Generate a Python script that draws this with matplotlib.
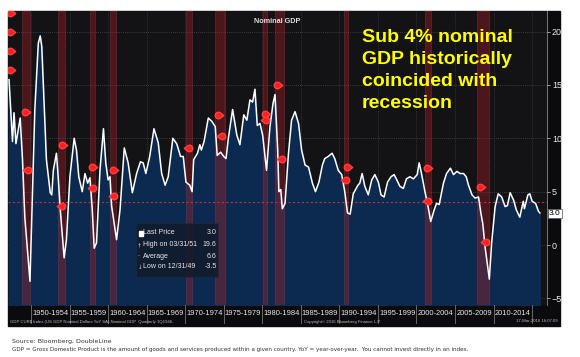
import matplotlib.pyplot as plt
import matplotlib.transforms as mtransforms
from matplotlib.patches import Rectangle
from matplotlib.path import Path
import numpy as np

# quarterly nominal GDP YoY (%)
gdp_year = [1947.15, 1947.6, 1947.8, 1948.05, 1948.6, 1948.9, 1949.2, 1949.87, 1950.5, 1950.95,
            1951.2, 1951.4, 1952.0, 1952.5, 1952.7, 1952.9, 1953.3, 1953.5, 1953.8, 1954.3,
            1954.6, 1955.05, 1955.6, 1955.9, 1956.2, 1956.65, 1957.0, 1957.35, 1957.65, 1957.95,
            1958.2, 1958.5, 1958.95, 1959.4, 1959.7, 1960.0, 1960.25, 1960.45, 1961.1, 1961.55,
            1962.1, 1962.6, 1963.15, 1963.7, 1964.2, 1964.55, 1964.9, 1965.4, 1965.95, 1966.5,
            1966.95, 1967.4, 1967.8, 1968.4, 1968.9, 1969.4, 1969.75, 1970.1, 1970.6, 1970.9,
            1971.1, 1971.6, 1971.9, 1972.1, 1972.45, 1973.0, 1973.45, 1973.9, 1974.15, 1974.6,
            1975.0, 1975.3, 1975.6, 1976.15, 1976.7, 1977.1, 1977.6, 1978.0, 1978.4, 1978.75,
            1979.05, 1979.35, 1979.7, 1980.05, 1980.35, 1980.55, 1981.0, 1981.4, 1981.65, 1982.0,
            1982.15, 1982.4, 1982.6, 1982.95, 1983.4, 1983.8, 1984.25, 1984.7, 1985.1, 1985.55,
            1986.0, 1986.5, 1986.9, 1987.35, 1987.8, 1988.1, 1988.55, 1989.05, 1989.4, 1989.85,
            1990.3, 1990.7, 1991.05, 1991.4, 1991.8, 1992.4, 1992.65, 1992.95, 1993.3, 1993.75,
            1994.2, 1994.6, 1995.05, 1995.4, 1995.8, 1996.25, 1996.7, 1997.1, 1997.45, 1997.85,
            1998.3, 1998.7, 1999.15, 1999.6, 2000.1, 2000.35, 2000.65, 2001.1, 2001.5, 2001.85,
            2002.3, 2002.6, 2002.95, 2003.5, 2003.9, 2004.4, 2004.8, 2005.25, 2005.65, 2006.1,
            2006.45, 2006.75, 2007.2, 2007.6, 2008.05, 2008.35, 2008.6, 2008.9, 2009.45, 2009.75,
            2010.2, 2010.6, 2011.05, 2011.5, 2011.8, 2012.15, 2012.6, 2012.95, 2013.4, 2013.85,
            2014.0, 2014.45, 2014.7, 2015.0, 2015.45, 2015.8, 2016.0]
gdp_yoy = [15.5, 9.7, 12.4, 9.5, 11.9, 8.0, 2.6, -3.4, 12.7, 18.9,
           19.6, 18.6, 8.0, 4.9, 4.7, 7.0, 8.6, 6.7, 3.3, -1.2,
           0.5, 6.4, 10.0, 8.9, 6.4, 5.0, 6.7, 5.8, 6.3, 3.3,
           -0.3, 0.2, 7.0, 10.9, 7.7, 6.1, 6.4, 3.7, 0.5, 3.3,
           9.1, 7.7, 4.9, 6.7, 7.8, 7.7, 6.7, 8.3, 10.9, 9.6,
           6.7, 5.6, 6.4, 10.0, 9.5, 8.3, 8.3, 5.9, 5.6, 5.0,
           8.0, 8.6, 9.4, 8.9, 9.7, 11.9, 11.6, 11.1, 8.4, 8.7,
           8.3, 8.1, 10.0, 12.7, 10.3, 9.4, 12.2, 11.7, 13.6, 13.4,
           14.6, 11.2, 11.4, 10.3, 8.3, 7.0, 11.1, 13.3, 14.1, 8.9,
           5.0, 5.2, 3.4, 3.9, 8.6, 11.7, 12.5, 11.4, 8.9, 7.5,
           7.3, 5.8, 5.0, 5.9, 7.5, 8.1, 8.3, 8.6, 8.1, 7.0,
           6.6, 5.0, 3.0, 2.9, 4.8, 5.6, 5.8, 6.7, 5.5, 4.7,
           6.1, 6.6, 5.9, 4.7, 4.5, 5.9, 6.4, 6.6, 6.1, 5.5,
           5.3, 6.2, 6.4, 6.2, 6.6, 7.7, 6.7, 5.0, 3.6, 2.2,
           3.3, 3.9, 3.8, 5.8, 6.7, 7.2, 6.6, 6.9, 6.7, 6.7,
           6.4, 5.6, 4.7, 4.4, 4.5, 3.0, 2.0, -0.2, -3.2, 0.2,
           3.6, 4.8, 4.5, 3.6, 3.7, 4.9, 4.2, 3.3, 2.6, 4.1,
           3.4, 4.7, 4.8, 4.1, 3.9, 3.2, 3.0]

# recession periods (start, end)
rec_start = [1948.85, 1953.55, 1957.65, 1960.3, 1970.05, 1973.9, 1980.05, 1981.6, 1990.6, 2001.15, 2007.9]
rec_end = [1949.85, 1954.4, 1958.35, 1961.05, 1970.9, 1975.2, 1980.6, 1982.85, 1991.15, 2001.9, 2009.45]

# red event markers
mark_year = [1947.25, 1947.25, 1947.25, 1947.25, 1949.2, 1949.55, 1954.0, 1954.05, 1957.95, 1958.1,
             1960.7, 1960.8, 1970.5, 1974.3, 1974.8, 1980.35, 1980.5, 1981.85, 1982.5, 1990.95,
             1990.8, 2001.4, 2001.5, 2008.3, 2009.0]
mark_val = [21.7, 20.0, 18.2, 16.4, 12.5, 7.0, 9.4, 3.7, 7.3, 5.3,
            7.0, 4.6, 9.1, 12.2, 10.2, 12.3, 11.7, 15.0, 8.1, 7.3,
            6.1, 7.2, 4.1, 5.4, 0.3]
mark_dir = ['r', 'r', 'r', 'r', 'r', 'l', 'r', 'l', 'r', 'l',
            'r', 'l', 'l', 'r', 'l', 'r', 'l', 'r', 'l', 'r',
            'l', 'r', 'l', 'r', 'l']

period_labels = ['1950-1954', '1955-1959', '1960-1964', '1965-1969', '1970-1974', '1975-1979',
                 '1980-1984', '1985-1989', '1990-1994', '1995-1999', '2000-2004', '2005-2009',
                 '2010-2014']
period_start = [1950, 1955, 1960, 1965, 1970, 1975, 1980, 1985, 1990, 1995, 2000, 2005, 2010]

bbg = ['Liberation Sans', 'DejaVu Sans']
W, H = 580, 357


def fx(px):
    return px / W


def fy(py):
    return 1 - py / H


fig = plt.figure(figsize=(5.8, 3.57), dpi=100, facecolor='white')

# black bloomberg panel
fig.patches.append(Rectangle((fx(8), fy(326)), fx(560) - fx(8), fy(11) - fy(326),
                             transform=fig.transFigure, color='#0b0b0d', zorder=-5))

ax = fig.add_axes([fx(8), fy(305), fx(547) - fx(8), fy(11) - fy(305)])
ax.set_facecolor('#131316')
ax.set_xlim(1947.02, 2016.93)
ax.set_ylim(-5.62, 21.93)

for y in [-5, 0, 5, 10, 15, 20]:
    ax.axhline(y, color='#4a4a52', lw=0.6, ls=(0, (1, 1.5)), zorder=1)
for x in range(1950, 2016, 5):
    ax.axvline(x, color='#3a3a44', lw=0.6, ls=(0, (1, 1.5)), zorder=1)

ax.fill_between(gdp_year, gdp_yoy, -5.62, color='#0c2a4f', zorder=2)
ax.plot(gdp_year, gdp_yoy, color='white', lw=1.1, zorder=4)

for s, e in zip(rec_start, rec_end):
    ax.axvspan(s, e, facecolor='#a8202a', alpha=0.38, edgecolor='#c0303a', lw=0.6, zorder=3)

ax.axhline(4.0, color='#b8304a', lw=0.8, ls=(0, (2, 2)), zorder=3)

# pin shaped markers
ang = np.linspace(np.radians(45), np.radians(315), 20)
pin_r = Path(np.vstack([np.column_stack([np.cos(ang), np.sin(ang)]), [[1.6, 0], [np.cos(ang[0]), np.sin(ang[0])]]]), closed=True)
pin_l = Path(pin_r.vertices * [-1, 1], closed=True)
for d, pin in [('r', pin_r), ('l', pin_l)]:
    xs = [x for x, dd in zip(mark_year, mark_dir) if dd == d]
    ys = [v for v, dd in zip(mark_val, mark_dir) if dd == d]
    ax.plot(xs, ys, ls='none', marker=pin, ms=7.5, color='#ff2020', mec='#ff4040', zorder=5)

ax.yaxis.tick_right()
ax.set_yticks([-5, 0, 5, 10, 15, 20])
ax.tick_params(axis='y', colors='#bbbbbb', labelsize=6.5, length=2, width=0.6, pad=1.5)
for lbl in ax.get_yticklabels():
    lbl.set_color('#e8e8e8')
    lbl.set_family(bbg)
ax.set_xticks([])
for side in ['left', 'top', 'bottom']:
    ax.spines[side].set_visible(False)
ax.spines['right'].set_color('#8a8a8a')
ax.spines['right'].set_linewidth(0.6)

# last price tag
tr = mtransforms.blended_transform_factory(ax.transAxes, ax.transData)
ax.text(1.004, 3.0, '3.0', transform=tr, fontsize=6, family=bbg, color='black', va='center', ha='left',
        bbox=dict(boxstyle='square,pad=0.12', fc='white', ec='#555555', lw=0.5), zorder=6)

# x period labels in black bar
trx = mtransforms.blended_transform_factory(ax.transData, ax.transAxes)
for s, lab in zip(period_start, period_labels):
    ax.text(s + 2.5, -0.03, lab, transform=trx, ha='center', va='center', fontsize=5.4,
            family=bbg, color='#e6e6e6', clip_on=False)
for s in period_start + [2015]:
    ax.plot([s, s], [0, -0.062], transform=trx, color='#777777', lw=0.6, clip_on=False)

ax.text(0.5, 0.975, 'Nominal GDP', transform=ax.transAxes, ha='center', va='top', fontsize=5.2,
        family=bbg, color='#e0e0e0', weight='bold')

# legend box
fig.patches.append(Rectangle((fx(136), fy(277)), fx(218) - fx(136), fy(223) - fy(277),
                             transform=fig.transFigure, fc='#111a2a', ec='#222a38', lw=0.5, alpha=0.85, zorder=7))
leg_rows = [('Last Price', '3.0', 233), ('High on 03/31/51', '19.6', 245),
            ('Average', '6.6', 256), ('Low on 12/31/49', '-3.5', 267)]
for name, val, py in leg_rows:
    fig.text(fx(143), fy(py), name, fontsize=5.0, family=bbg, color='#e8e8e8', va='center', zorder=8)
    fig.text(fx(216.5), fy(py), val, fontsize=5.0, family=bbg, color='#e8e8e8', va='center', ha='right', zorder=8)
fig.patches.append(Rectangle((fx(139), fy(235.5)), fx(142.5) - fx(139), fy(230.5) - fy(235.5),
                             transform=fig.transFigure, color='white', zorder=8))
for sym, py in [('\u2020', 245), ('-', 256), ('\u2193', 267)]:
    fig.text(fx(138), fy(py), sym, fontsize=4, color='#cccccc', va='center', zorder=8)

# annotation
fig.text(fx(362), fy(29.5), 'Sub 4% nominal\nGDP historically\ncoincided with\nrecession',
         fontsize=14, family=['Liberation Sans', 'DejaVu Sans'], weight='bold', color='#ffff00',
         va='top', ha='left', linespacing=1.36, zorder=9)

# fine print inside panel
fig.text(fx(10), fy(321.5), 'GDP CUR$ Index (US GDP Nominal Dollars YoY SA) Nominal GDP  Quarterly 1Q1946-',
         fontsize=3.1, color='#bbbbbb', va='center', family=bbg)
fig.text(fx(342), fy(321.5), 'Copyright\u00a9 2016 Bloomberg Finance L.P.', fontsize=3.1, color='#bbbbbb',
         va='center', ha='center', family=bbg)
fig.text(fx(558), fy(321.5), '17-Mar-2016 16:07:09', fontsize=3.1, color='#bbbbbb', va='center', ha='right',
         family=bbg)

# source notes
fig.text(fx(12), fy(342), 'Source: Bloomberg, DoubleLine', fontsize=4.5, color='#333333', va='center')
fig.text(fx(12), fy(350), 'GDP = Gross Domestic Product is the amount of goods and services produced within a given '
         'country. YoY = year-over-year.  You cannot invest directly in an index.',
         fontsize=4.1, color='#333333', va='center')

fig.savefig('out.png', dpi=100, facecolor='white')
